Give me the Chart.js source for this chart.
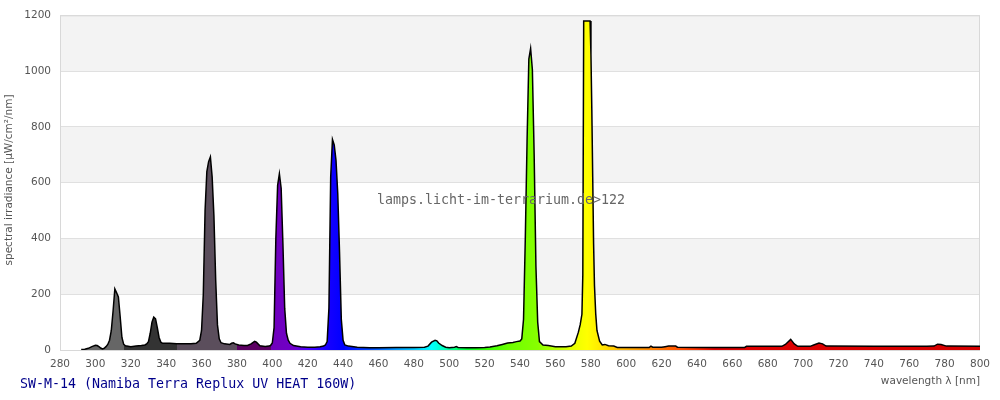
<!DOCTYPE html>
<html>
<head>
<meta charset="utf-8">
<script src="https://cdn.jsdelivr.net/npm/chart.js@4/dist/chart.umd.min.js"></script>
<style>
html,body{margin:0;padding:0;background:#fff;}
#wrap{width:1000px;height:400px;position:relative;}
</style>
</head>
<body>
<div id="wrap"><canvas id="c" width="1000" height="400"></canvas></div>
<script>
// Wavelength (nm) and spectral irradiance (µW/cm²/nm)
const wavelengths = [292,294,296,298,300,301,302,303,304,305,306,307,308,309,310,311,312,313,314,315,316,317,320,323,326,328,329,330,331,332,333,334,335,336,337,338,342,346,350,354,357,359,360,361,362,363,364,365,366,367,368,369,370,371,373,376,377,378,379,381,384,386,388,390,391,393,396,398,399,400,401,402,403,404,405,406,407,408,409,410,412,416,420,424,427,429,430,431,432,433,434,435,436,437,438,439,440,441,443,448,455,460,470,480,486,488,490,492,493,494,496,498,500,503,504,505,510,515,520,523,527,530,533,536,538,540,541,542,543,544,545,546,547,548,549,550,551,553,556,560,566,569,571,573,574,575,575.5,576,579.6,580.1,580.6,581.1,581.6,582.1,582.8,583.5,585,586.5,588,590,593,595,600,610,613,614,615,620,622,624,628,629,640,655,667,668,680,688,690,693,695,697,704,706,709,711,713,740,770,774,776,778,781,800];
const irradiance = [2,3,6,12,17,16,12,7,4,6,12,20,35,70,140,219,205,190,120,45,20,15,12,14,16,18,22,30,60,100,118,112,80,45,28,24,24,22,22,22,24,35,70,200,500,640,675,692,620,480,250,90,40,26,22,20,24,26,22,18,16,16,22,31,28,15,13,14,16,25,80,400,590,632,580,380,150,60,35,24,16,12,10,10,12,14,18,30,150,620,755,735,680,560,350,110,35,18,14,10,8,8,9,9,10,14,28,35,33,25,16,10,8,10,12,9,8,8,9,11,15,20,25,27,30,32,40,110,400,750,1043,1081,1005,700,300,100,30,18,16,12,12,14,24,64,90,128,268,1180,1180,1060,860,620,380,230,130,70,32,18,20,15,14,9,9,9,9,14,10,10,12,14,14,10,9,9,9,13,13,13,20,38,22,13,13,18,25,22,14,13,13,14,21,20,14,13];

const xTicksMin = 280, xTicksMax = 800, xStep = 20;
const yTicksMin = 0, yTicksMax = 1200, yStep = 200;

const chartTitle = "SW-M-14 (Namiba Terra Replux UV HEAT 160W)";
const watermark = "lamps.licht-im-terrarium.de>122";
const yTitle = "spectral irradiance [µW/cm²/nm]";
const xTitle = "wavelength λ [nm]";

// Spectral fill colour stops [wavelength, colour]
const colorStops = [
  [290,'#666666'],[316,'#666666'],[316.01,'#333333'],[346,'#333333'],[346.01,'#5b4e5c'],
  [380,'#5b4e5c'],[380.01,'#5c0062'],[399,'#5c0062'],[399.01,'#7000bb'],[412,'#7000c8'],
  [420,'#4a00ff'],[430,'#1a00ff'],[440,'#0000ff'],[450,'#0030ff'],[460,'#0060ff'],
  [470,'#0098ff'],[480,'#00c8ff'],[490,'#00ffff'],[500,'#00ffa0'],[510,'#00ff30'],
  [520,'#30ff00'],[535,'#70ff00'],[550,'#88ff00'],[562,'#c0ff00'],[572,'#f0ff00'],
  [578,'#ffff00'],[585,'#ffea00'],[595,'#ffc000'],[610,'#ff9000'],[625,'#ff6000'],
  [640,'#ff3000'],[650,'#e00000'],[800,'#d40000']
];

const points = wavelengths.map((w,i)=>({x:w,y:irradiance[i]}));

function spectrumFill(context){
  const chart = context.chart;
  const area = chart.chartArea;
  if(!area) return '#888';
  const xs = chart.scales.x;
  const x0 = xs.getPixelForValue(xTicksMin), x1 = xs.getPixelForValue(xTicksMax);
  const g = chart.ctx.createLinearGradient(x0,0,x1,0);
  colorStops.forEach(([w,c])=>{
    g.addColorStop(Math.min(1,Math.max(0,(w-xTicksMin)/(xTicksMax-xTicksMin))), c);
  });
  return g;
}

const decor = {
  id:'decor',
  beforeDraw(chart){
    const {ctx, chartArea:a, scales:{y}} = chart;
    ctx.save();
    ctx.fillStyle='#fff';
    ctx.fillRect(0,0,chart.width,chart.height);
    ctx.fillStyle='#f3f3f3';
    for(let v=yTicksMin+yStep; v<yTicksMax; v+=2*yStep){
      const top=y.getPixelForValue(v+yStep), bot=y.getPixelForValue(v);
      ctx.fillRect(a.left, top, a.right-a.left, bot-top);
    }
    ctx.restore();
  },
  beforeDatasetsDraw(chart){
    const {ctx, chartArea:a} = chart;
    ctx.save();
    ctx.strokeStyle='#d8d8d8';
    ctx.lineWidth=1;
    ctx.strokeRect(a.left+0.5, a.top+0.5, a.right-a.left-1, a.bottom-a.top);
    ctx.restore();
  },
  afterDatasetsDraw(chart){
    const {ctx} = chart;
    ctx.save();
    ctx.font='13.3px "DejaVu Sans Mono", monospace';
    ctx.fillStyle='#666';
    ctx.textAlign='center';
    ctx.textBaseline='middle';
    ctx.fillText(watermark, 501, 201);
    ctx.restore();
  },
  afterDraw(chart){
    const {ctx, chartArea:a} = chart;
    ctx.save();
    ctx.font='13.3px "DejaVu Sans Mono", monospace';
    ctx.fillStyle='#00008b';
    ctx.textAlign='left';
    ctx.textBaseline='middle';
    ctx.fillText(chartTitle, 20, 385);
    ctx.font='10.5px "DejaVu Sans", sans-serif';
    ctx.fillStyle='#555';
    ctx.textAlign='right';
    ctx.fillText(xTitle, a.right, 381);
    ctx.translate(9,180);
    ctx.rotate(-Math.PI/2);
    ctx.textAlign='center';
    ctx.fillText(yTitle, 0, 0);
    ctx.restore();
  }
};

new Chart(document.getElementById('c'), {
  type:'line',
  data:{datasets:[{
    data:points,
    borderColor:'#000',
    borderWidth:1.5,
    backgroundColor:spectrumFill,
    fill:'origin',
    pointRadius:0,
    tension:0
  }]},
  options:{
    responsive:false,
    animation:false,
    devicePixelRatio:1,
    layout:{padding:{top:5,right:20,bottom:0,left:0}},
    plugins:{legend:{display:false},tooltip:{enabled:false}},
    scales:{
      x:{
        type:'linear', min:xTicksMin, max:xTicksMax,
        afterFit(s){ s.height=50; },
        ticks:{stepSize:xStep, color:'#555', padding:8, maxRotation:0, autoSkip:false,
               callback:(v)=>String(v),
               font:{family:'"DejaVu Sans", sans-serif', size:10.5}},
        grid:{display:false, drawTicks:false},
        border:{display:false}
      },
      y:{
        min:yTicksMin, max:yTicksMax,
        afterFit(s){ s.width=60; },
        ticks:{stepSize:yStep, color:'#555', padding:9,
               callback:(v)=>String(v),
               font:{family:'"DejaVu Sans", sans-serif', size:10.5}},
        grid:{color:'#e0e0e0', drawTicks:false},
        border:{display:false}
      }
    }
  },
  plugins:[decor]
});
</script>
</body>
</html>
